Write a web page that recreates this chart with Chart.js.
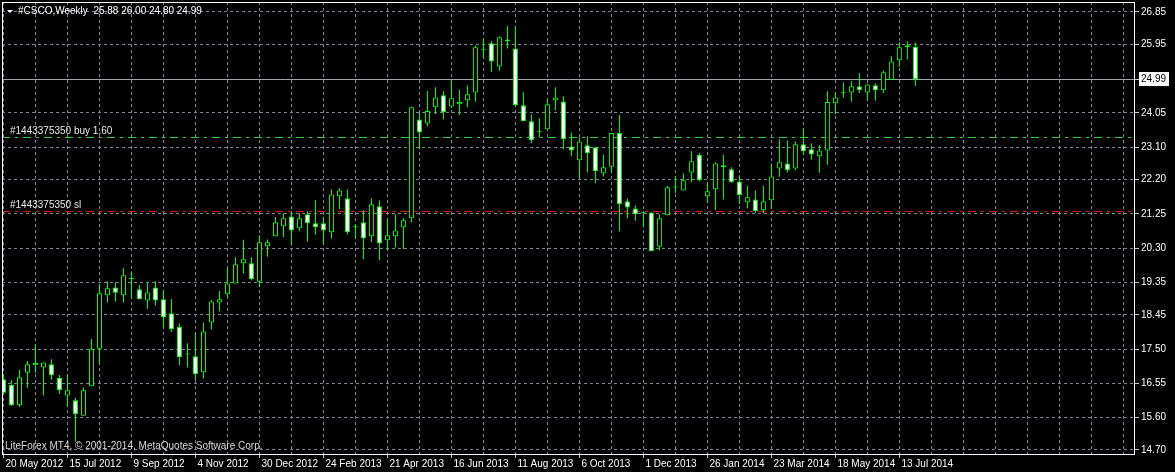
<!DOCTYPE html>
<html>
<head>
<meta charset="utf-8">
<script src="https://cdn.jsdelivr.net/npm/chart.js@4.4.1/dist/chart.umd.min.js"></script>
<style>
  html, body { margin: 0; padding: 0; background: #000; }
  canvas { display: block; }
</style>
</head>
<body>
<canvas id="chart" width="1175" height="472"></canvas>
<script>
// --- Data (weekly candles, first bar = week of 20 May 2012) ---
const symbol = '#CSCO,Weekly';
const opens = [
  16.66, 16.50, 15.94, 16.84, 17.05, 16.99, 17.08, 16.70, 16.21, 16.08,
  15.65, 16.47, 17.51, 18.99, 19.21, 18.99, 19.44, 19.16, 18.85, 19.21,
  18.88, 18.49, 18.12, 17.35, 17.30, 16.86, 18.24, 18.79, 19.02, 19.32,
  19.88, 19.88, 19.37, 20.35, 20.63, 20.91, 21.18, 20.85, 21.24, 20.99,
  20.99, 20.74, 21.74, 21.68, 20.88, 21.02, 20.63, 21.46, 20.52, 20.63,
  20.88, 21.13, 23.87, 23.76, 24.21, 24.54, 24.23, 24.29, 24.40, 24.62,
  25.79, 25.98, 25.34, 26.09, 25.84, 24.26, 23.82, 23.53, 23.60, 24.40,
  24.37, 23.12, 22.74, 23.15, 23.10, 22.38, 22.56, 23.49, 21.60, 21.40,
  21.27, 21.29, 20.34, 21.21, 21.98, 21.90, 22.40, 22.88, 21.74, 21.93,
  22.60, 22.49, 22.15, 21.57, 21.65, 21.35, 21.63, 22.51, 22.65, 22.51,
  23.18, 23.04, 22.85, 23.01, 24.32, 24.61, 24.62, 24.79, 24.62, 24.82,
  24.68, 24.96, 25.51, 25.93, 25.88
];
const highs = [
  16.81, 16.64, 16.92, 17.17, 17.63, 17.13, 17.22, 16.78, 16.80, 16.15,
  16.43, 17.78, 19.30, 19.38, 19.35, 19.74, 19.66, 19.27, 19.35, 19.38,
  19.14, 18.89, 18.21, 17.66, 17.95, 18.24, 18.86, 19.11, 19.74, 20.05,
  20.53, 20.05, 20.66, 20.54, 21.16, 21.27, 21.32, 21.27, 21.32, 21.63,
  21.16, 21.93, 21.96, 21.93, 20.96, 21.35, 21.68, 21.63, 21.13, 21.24,
  21.13, 24.22, 24.05, 24.66, 24.76, 24.65, 24.96, 24.69, 24.82, 25.93,
  26.12, 26.04, 26.17, 26.46, 26.46, 24.63, 24.01, 23.90, 24.43, 24.76,
  24.51, 23.51, 23.37, 23.40, 23.10, 22.90, 23.49, 23.99, 21.68, 21.49,
  21.32, 21.30, 21.24, 22.02, 22.30, 22.38, 22.99, 22.93, 22.13, 22.68,
  22.90, 22.54, 22.32, 22.02, 21.90, 22.04, 22.65, 23.32, 23.29, 23.26,
  23.62, 23.21, 23.15, 24.65, 24.62, 24.90, 24.93, 25.15, 24.85, 24.87,
  25.23, 25.62, 26.01, 26.04, 26.00
];
const lows = [
  16.23, 15.92, 15.90, 16.43, 16.84, 16.21, 16.65, 16.25, 15.90, 14.93,
  15.65, 16.47, 17.08, 18.79, 18.81, 18.79, 18.91, 18.88, 18.62, 18.71,
  18.10, 17.97, 17.05, 16.99, 16.64, 16.68, 18.04, 18.54, 18.91, 19.32,
  19.60, 19.40, 19.23, 20.06, 20.63, 20.60, 20.37, 20.77, 20.48, 20.67,
  20.41, 20.57, 21.38, 20.68, 20.57, 19.99, 20.46, 19.96, 20.24, 20.32,
  20.27, 21.02, 23.04, 23.68, 24.01, 23.87, 24.19, 23.99, 24.21, 24.36,
  25.57, 25.19, 25.22, 25.84, 24.23, 23.82, 23.21, 23.37, 23.60, 24.12,
  23.04, 22.85, 22.24, 22.40, 22.10, 22.29, 22.40, 20.76, 21.13, 21.06,
  20.87, 20.21, 20.24, 21.21, 21.82, 21.90, 22.13, 22.15, 21.57, 21.35,
  21.65, 22.11, 21.52, 21.40, 21.27, 21.27, 21.40, 22.28, 22.40, 22.46,
  22.88, 22.75, 22.39, 22.61, 24.01, 24.47, 24.36, 24.60, 24.39, 24.39,
  24.60, 24.96, 25.33, 25.54, 24.80
];
const closes = [
  16.29, 15.94, 16.72, 17.08, 17.11, 17.13, 16.77, 16.36, 16.36, 15.69,
  16.36, 17.51, 19.05, 19.19, 19.06, 19.55, 19.44, 18.88, 19.07, 18.85,
  18.38, 18.05, 17.27, 17.35, 16.80, 17.99, 18.82, 18.88, 19.32, 19.85,
  19.99, 19.44, 20.46, 20.46, 21.02, 21.13, 20.79, 21.13, 20.99, 20.88,
  20.79, 21.79, 21.90, 20.74, 20.88, 20.57, 21.52, 20.43, 20.66, 20.79,
  21.07, 24.21, 23.51, 24.10, 24.48, 24.07, 24.46, 24.35, 24.57, 25.87,
  25.79, 25.48, 26.15, 26.04, 24.26, 23.82, 23.29, 23.53, 24.29, 24.48,
  23.32, 23.01, 23.26, 22.93, 22.43, 22.54, 23.49, 21.52, 21.43, 21.24,
  21.27, 20.21, 21.13, 21.99, 21.98, 22.18, 22.71, 22.18, 21.88, 22.65,
  22.54, 22.13, 21.77, 21.71, 21.32, 21.60, 22.29, 22.68, 22.46, 23.18,
  22.99, 22.90, 23.01, 24.35, 24.48, 24.61, 24.79, 24.68, 24.84, 24.68,
  25.18, 25.48, 25.87, 25.87, 24.99
];

// time axis labels, one every 8 bars
const dateLabels = [
  '20 May 2012', '15 Jul 2012', '9 Sep 2012', '4 Nov 2012', '30 Dec 2012',
  '24 Feb 2013', '21 Apr 2013', '16 Jun 2013', '11 Aug 2013', '6 Oct 2013',
  '1 Dec 2013', '26 Jan 2014', '23 Mar 2014', '18 May 2014', '13 Jul 2014'
];
const priceTicks = [14.70, 15.60, 16.55, 17.50, 18.45, 19.35, 20.30, 21.25,
                    22.20, 23.10, 24.05, 24.99, 25.95, 26.85];

const bidPrice = 24.99;
const buyLevel = 23.38;
const slLevel = 21.33;
const orderId = '#1443375350';
const copyright = 'LiteForex MT4, \u00A9 2001-2014, MetaQuotes Software Corp.';

const FONT = "'Liberation Sans', Arial, sans-serif";
const CANDLE = '#00ff00';
const GRID = '#778899';

// --- Overlay: price levels, frame, texts ---
const overlay = {
  id: 'overlay',
  beforeDatasetsDraw(chart) {
    const { ctx, chartArea: a, scales: { y } } = chart;
    const line = (price, color, dash) => {
      const py = Math.round(y.getPixelForValue(price)) + 0.5;
      ctx.save();
      ctx.strokeStyle = color;
      ctx.lineWidth = 1;
      ctx.setLineDash(dash);
      ctx.beginPath();
      ctx.moveTo(a.left, py);
      ctx.lineTo(a.right, py);
      ctx.stroke();
      ctx.restore();
    };
    line(bidPrice, '#a0a6ae', []);
    line(buyLevel, '#32cd32', [8, 5, 3, 5]);
    line(slLevel, '#e01010', [8, 5, 3, 5]);
  },
  afterDraw(chart) {
    const { ctx, chartArea: a, scales: { y } } = chart;
    ctx.save();
    // frame
    ctx.strokeStyle = '#ffffff';
    ctx.lineWidth = 1;
    ctx.strokeRect(a.left + 0.5, a.top + 0.5, a.right - a.left - 1, a.bottom - a.top);

    ctx.font = '10px ' + FONT;
    ctx.textBaseline = 'middle';
    ctx.fillStyle = '#ffffff';

    // header
    ctx.beginPath();
    ctx.moveTo(7, 10); ctx.lineTo(13, 10); ctx.lineTo(10, 13); ctx.closePath();
    ctx.fill();
    const n = closes.length - 1;
    const ohlc = [opens[n], highs[n], lows[n], closes[n]].map(v => v.toFixed(2)).join(' ');
    ctx.fillText(symbol + '  ' + ohlc, 18, 11);

    // order labels
    ctx.fillStyle = '#e8e8e8';
    ctx.fillText(orderId + ' buy 1.60', 10, y.getPixelForValue(buyLevel) - 6);
    ctx.fillText(orderId + ' sl', 10, y.getPixelForValue(slLevel) - 6);

    // copyright
    ctx.fillStyle = '#d8d8d8';
    ctx.fillText(copyright, 5, 446);
    ctx.restore();
  }
};

const wickData = opens.map((o, i) => ({ x: i, y: [lows[i], highs[i]] }));
const bodyData = opens.map((o, i) => ({ x: i, y: [o, closes[i]] }));
const bodyFill = opens.map((o, i) => closes[i] < o ? '#ffffff' : '#000000');

new Chart(document.getElementById('chart'), {
  type: 'bar',
  data: {
    datasets: [
      {
        data: bodyData,
        order: 1,
        grouped: false,
        maxBarThickness: 5,
        minBarLength: 1,
        backgroundColor: bodyFill,
        borderColor: CANDLE,
        borderWidth: 1,
        borderSkipped: false,
        inflateAmount: 0
      },
      {
        data: wickData,
        order: 2,
        grouped: false,
        maxBarThickness: 1,
        backgroundColor: CANDLE,
        borderWidth: 0,
        inflateAmount: 0
      }
    ]
  },
  options: {
    responsive: false,
    animation: false,
    events: [],
    layout: { padding: { left: 2, top: 2, right: 0, bottom: 0 } },
    plugins: { legend: { display: false }, tooltip: { enabled: false } },
    scales: {
      x: {
        type: 'linear',
        position: 'bottom',
        min: -0.1875,
        max: 141.45,
        offset: false,
        afterBuildTicks: (scale) => {
          const t = [];
          for (let k = 0; k <= 140; k += 4) t.push({ value: k });
          scale.ticks = t;
        },
        afterFit: (scale) => {
          scale.height = 18;
          scale.paddingLeft = 0;
          scale.paddingRight = 0;
        },
        grid: {
          offset: false,
          color: GRID,
          lineWidth: 1,
          tickLength: 4,
          tickColor: (c) => (c.tick && c.tick.value % 8 === 0 && c.tick.value / 8 < dateLabels.length) ? '#c8c8c8' : 'rgba(0,0,0,0)'
        },
        border: { display: false, dash: [3, 3] },
        ticks: {
          autoSkip: false,
          maxRotation: 0,
          minRotation: 0,
          align: 'start',
          labelOffset: 2,
          padding: 0,
          color: '#ffffff',
          font: { family: FONT, size: 10 },
          callback: (v) => (v % 8 === 0 && dateLabels[v / 8]) ? dateLabels[v / 8] : ''
        }
      },
      y: {
        type: 'linear',
        position: 'right',
        min: 14.589,
        max: 27.127,
        afterBuildTicks: (scale) => {
          scale.ticks = priceTicks.map(v => ({ value: v }));
        },
        afterFit: (scale) => {
          scale.width = 40;
          scale.paddingTop = 0;
          scale.paddingBottom = 0;
        },
        grid: {
          color: (c) => (c.tick && c.tick.value === bidPrice) ? 'rgba(0,0,0,0)' : GRID,
          lineWidth: 1,
          tickLength: 4,
          tickColor: '#c8c8c8'
        },
        border: { display: false, dash: [3, 3] },
        ticks: {
          autoSkip: false,
          padding: 2,
          color: (c) => (c.tick && c.tick.value === bidPrice) ? '#000000' : '#ffffff',
          showLabelBackdrop: (c) => !!(c.tick && c.tick.value === bidPrice),
          backdropColor: '#ffffff',
          backdropPadding: { top: 1, bottom: 1, left: 2, right: 3 },
          font: { family: FONT, size: 10 },
          callback: (v) => v.toFixed(2)
        }
      }
    }
  },
  plugins: [overlay]
});
</script>
</body>
</html>
